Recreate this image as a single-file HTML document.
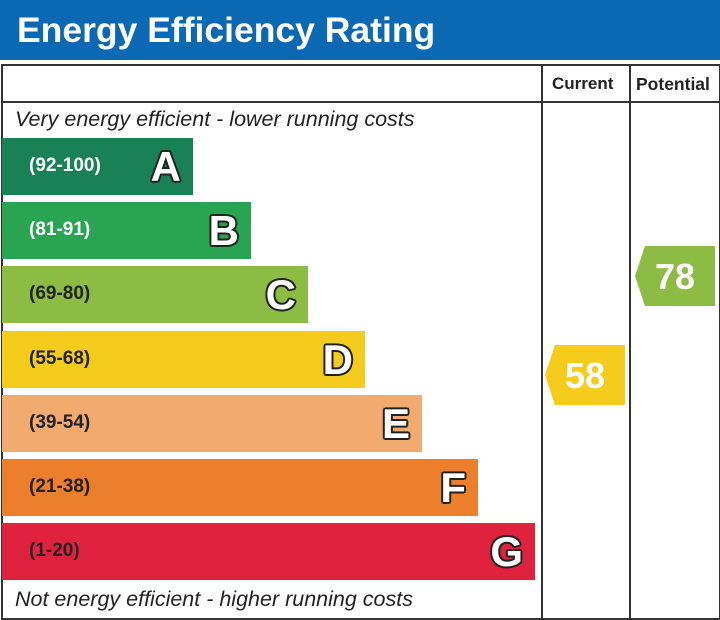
<!DOCTYPE html><html><head><style>
body{margin:0;width:720px;height:618px;background:#fff;font-family:"Liberation Sans",sans-serif;position:relative;overflow:hidden}
.a{position:absolute}
.bar{position:absolute;left:2px;height:57px}
.rng{position:absolute;left:27px;top:17px;font-size:19px;font-weight:bold;color:#fff}
.let{position:absolute;right:12px;top:5px;font-size:42px;font-weight:bold;color:#fff;text-shadow:-2px 0 #222,2px 0 #222,0 -2px #222,0 2px #222,-1.5px -1.5px #222,1.5px 1.5px #222,-1.5px 1.5px #222,1.5px -1.5px #222}
.dark .rng{color:#222}
</style></head><body>
<div class="a" style="left:0;top:0;width:720px;height:60px;background:#0b68b3"></div>
<div class="a" style="left:17px;top:10px;font-size:35.5px;font-weight:bold;color:#fff">Energy Efficiency Rating</div>
<div class="a" style="left:1px;top:64px;width:716px;height:552px;border:2px solid #333"></div>
<div class="a" style="left:1px;top:101px;width:718px;height:2px;background:#333"></div>
<div class="a" style="left:541px;top:64px;width:2px;height:554px;background:#333"></div>
<div class="a" style="left:629px;top:64px;width:2px;height:554px;background:#333"></div>
<div class="a" style="left:552px;top:74px;font-size:17px;font-weight:bold;color:#222">Current</div>
<div class="a" style="left:636px;top:74px;font-size:17.5px;font-weight:bold;color:#222">Potential</div>
<div class="a" style="left:15px;top:107px;font-size:21.5px;font-style:italic;color:#222">Very energy efficient - lower running costs</div>
<div class="a" style="left:15px;top:587px;font-size:21.5px;font-style:italic;color:#222">Not energy efficient - higher running costs</div>
<div class="bar" style="top:138px;width:191px;background:#1a8055"><span class="rng">(92-100)</span><span class="let">A</span></div>
<div class="bar" style="top:202px;width:249px;background:#29a552"><span class="rng">(81-91)</span><span class="let">B</span></div>
<div class="bar dark" style="top:266px;width:306px;background:#8cbc44"><span class="rng">(69-80)</span><span class="let">C</span></div>
<div class="bar dark" style="top:331px;width:363px;background:#f5cc1c"><span class="rng">(55-68)</span><span class="let">D</span></div>
<div class="bar dark" style="top:395px;width:420px;background:#f2ab6f"><span class="rng">(39-54)</span><span class="let">E</span></div>
<div class="bar dark" style="top:459px;width:476px;background:#ec7f2b"><span class="rng">(21-38)</span><span class="let">F</span></div>
<div class="bar dark" style="top:523px;width:533px;background:#e0223f"><span class="rng">(1-20)</span><span class="let">G</span></div>
<svg class="a" style="left:0;top:0" width="720" height="618">
<polygon points="545,375 555,345 625,345 625,405 555,405" fill="#f5cc1c"/>
<text x="585" y="388" font-size="36" font-weight="bold" fill="#fff" text-anchor="middle" font-family="Liberation Sans">58</text>
<polygon points="635,276 645,246 715,246 715,306 645,306" fill="#8cbc44"/>
<text x="675" y="289" font-size="36" font-weight="bold" fill="#fff" text-anchor="middle" font-family="Liberation Sans">78</text>
</svg>
</body></html>
